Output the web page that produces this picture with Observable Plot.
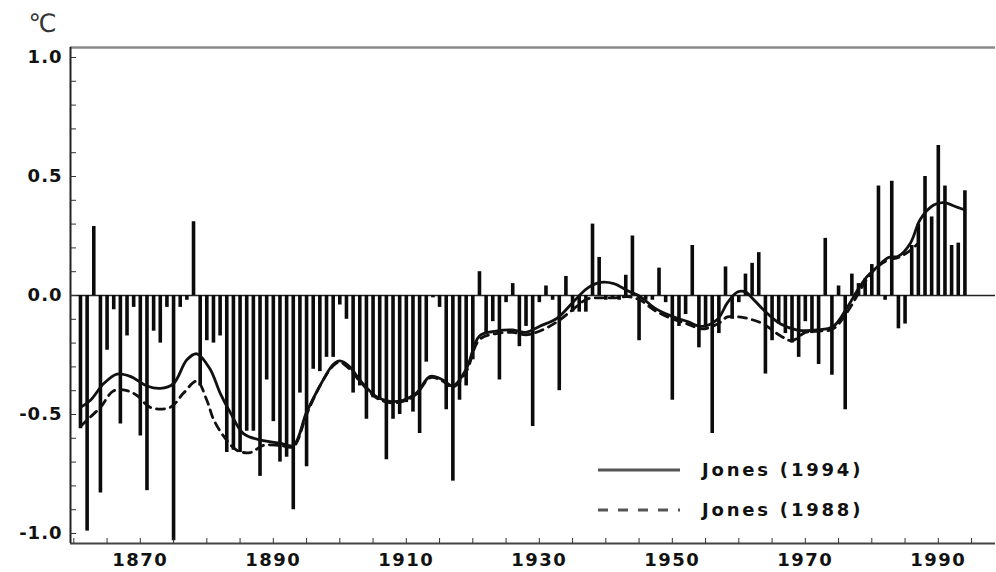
<!DOCTYPE html>
<html>
<head>
<meta charset="utf-8">
<script src="https://cdn.jsdelivr.net/npm/d3@7"></script>
<script src="https://cdn.jsdelivr.net/npm/@observablehq/plot@0.6"></script>
<style>
  html, body { margin: 0; padding: 0; background: #fff; }
  #chart svg { display: block; }
</style>
</head>
<body>
<div id="chart"></div>
<script>
// ---------- DATA ----------
const firstYear = 1861;
// annual global temperature anomalies (°C), 1861–1994
const anomalies = [
  -0.56, -0.99, 0.29, -0.83, -0.23, -0.06, -0.54, -0.17, -0.05,          // 1861-1869
  -0.59, -0.82, -0.15, -0.20, -0.05, -1.03, -0.05, -0.02, 0.31, -0.38,   // 1870-1879
  -0.19, -0.20, -0.17, -0.66, -0.65, -0.66, -0.57, -0.57, -0.76, -0.355, // 1880-1889
  -0.53, -0.70, -0.68, -0.90, -0.41, -0.72, -0.31, -0.32, -0.26, -0.26,  // 1890-1899
  -0.04, -0.10, -0.41, -0.38, -0.52, -0.43, -0.44, -0.69, -0.52, -0.50,  // 1900-1909
  -0.45, -0.49, -0.58, -0.28, -0.01, -0.05, -0.48, -0.78, -0.44, -0.38,  // 1910-1919
  -0.27, 0.10, -0.16, -0.11, -0.355, -0.03, 0.05, -0.215, -0.13, -0.55,  // 1920-1929
  -0.03, 0.04, -0.02, -0.40, 0.08, -0.07, -0.07, -0.07, 0.30, 0.16,      // 1930-1939
  -0.02, -0.01, -0.02, 0.085, 0.25, -0.19, -0.02, -0.02, 0.115, -0.03,   // 1940-1949
  -0.44, -0.13, -0.08, 0.21, -0.22, -0.13, -0.58, -0.16, 0.12, -0.10,    // 1950-1959
  -0.03, 0.09, 0.135, 0.18, -0.33, -0.19, -0.12, -0.16, -0.20, -0.26,    // 1960-1969
  -0.11, -0.16, -0.29, 0.24, -0.335, 0.04, -0.48, 0.09, 0.05, 0.07,      // 1970-1979
  0.13, 0.46, -0.02, 0.48, -0.14, -0.12, 0.21, 0.30, 0.50, 0.33,         // 1980-1989
  0.63, 0.46, 0.21, 0.22, 0.44                                           // 1990-1994
];
const years = anomalies.map((_, i) => firstYear + i);

// smoothed curve, Jones (1994)
const jones1994Years = [1861, 1862.5, 1864.5, 1866.5, 1868.5, 1871, 1873, 1875, 1877, 1878.5,
  1880.5, 1882, 1883.5, 1885.5, 1888.5, 1891, 1893, 1895, 1897, 1899, 1900, 1901.5, 1903,
  1905.5, 1907.5, 1909.5, 1911.5, 1913.6, 1915.5, 1917, 1919, 1921, 1923.5, 1926, 1928, 1930,
  1932.7, 1935, 1937.2, 1939.2, 1941.2, 1943.3, 1945.2, 1947.2, 1949.3, 1952.3, 1954.5, 1956.8,
  1958.3, 1959.8, 1961, 1962, 1963.7, 1966.3, 1968.8, 1971.8, 1974.2, 1976.3, 1977.8, 1979.3,
  1980.8, 1982.5, 1984, 1985.8, 1987.3, 1989.3, 1990.8, 1992.9, 1994];
const jones1994Values = [-0.47, -0.44, -0.37, -0.33, -0.34, -0.38, -0.39, -0.37, -0.27, -0.245,
  -0.31, -0.41, -0.49, -0.58, -0.61, -0.62, -0.63, -0.49, -0.38, -0.29, -0.275, -0.30, -0.355,
  -0.425, -0.445, -0.44, -0.41, -0.34, -0.355, -0.38, -0.31, -0.17, -0.15, -0.145, -0.155, -0.13,
  -0.095, -0.03, 0.03, 0.055, 0.05, 0.02, -0.005, -0.05, -0.08, -0.11, -0.13, -0.10,
  -0.03, 0.015, 0.015, -0.01, -0.06, -0.12, -0.145, -0.145, -0.13, -0.05, 0.02, 0.08,
  0.12, 0.16, 0.165, 0.22, 0.32, 0.38, 0.39, 0.37, 0.36];

// smoothed curve, Jones (1988)
const jones1988Years = [1861, 1862.5, 1864, 1866, 1868, 1869.5, 1871.5, 1874.5, 1876.5, 1878.5,
  1880, 1881, 1882.5, 1884.5, 1886.5, 1888.5, 1891, 1893, 1895, 1897, 1899, 1900, 1901.5, 1903,
  1905.5, 1907.5, 1909.5, 1911.5, 1913.6, 1915.5, 1917, 1919, 1921, 1923.5, 1926, 1928, 1930,
  1932.7, 1935, 1937.2, 1939.2, 1941.2, 1943.3, 1945.2, 1947.2, 1949.3, 1952.3, 1954.5, 1956.8,
  1958.3, 1960, 1961.8, 1963.7, 1966.3, 1968, 1970, 1972, 1974.2, 1976.3, 1977.8, 1979.3,
  1980.8, 1982.5, 1984, 1985.8, 1987];
const jones1988Values = [-0.55, -0.51, -0.47, -0.40, -0.40, -0.42, -0.47, -0.47, -0.41, -0.36,
  -0.44, -0.52, -0.59, -0.65, -0.66, -0.63, -0.63, -0.635, -0.50, -0.38, -0.295, -0.28, -0.31, -0.36,
  -0.43, -0.45, -0.445, -0.415, -0.345, -0.36, -0.385, -0.32, -0.185, -0.16, -0.155, -0.165, -0.15,
  -0.11, -0.06, -0.015, -0.01, -0.01, -0.005, -0.02, -0.06, -0.09, -0.12, -0.14, -0.12,
  -0.09, -0.09, -0.10, -0.12, -0.17, -0.19, -0.155, -0.15, -0.14, -0.07, 0.0, 0.07,
  0.12, 0.15, 0.16, 0.19, 0.22];

const yTickLabels = [-1.0, -0.5, 0.0, 0.5, 1.0];
const yMinorTicks = [-1.0, -0.9, -0.8, -0.7, -0.6, -0.5, -0.4, -0.3, -0.2, -0.1, 0.0,
                     0.1, 0.2, 0.3, 0.4, 0.5, 0.6, 0.7, 0.8, 0.9, 1.0];
const xTickLabels = [1870, 1890, 1910, 1930, 1950, 1970, 1990];
const xMinorTicks = [1860, 1865, 1870, 1875, 1880, 1885, 1890, 1895, 1900, 1905, 1910, 1915,
                     1920, 1925, 1930, 1935, 1940, 1945, 1950, 1955, 1960, 1965, 1970, 1975,
                     1980, 1985, 1990, 1995];
const seriesNames = ["Jones (1994)", "Jones (1988)"];
const unitLabel = "℃";

// ---------- derived tables ----------
const bars = years.map((year, i) => ({year, value: anomalies[i]}));
const curve94 = jones1994Years.map((year, i) => ({year, value: jones1994Values[i]}));
const curve88 = jones1988Years.map((year, i) => ({year, value: jones1988Values[i]}));

const X_DOMAIN = [1859.5, 1998.6];
const Y_DOMAIN = [-1.042, 1.042];
const FONT = "DejaVu Sans";
const INK = "#111";

const chart = Plot.plot({
  width: 996,
  height: 572,
  marginLeft: 70,
  marginRight: 1,
  marginTop: 47,
  marginBottom: 29,
  x: {domain: X_DOMAIN, label: null},
  y: {domain: Y_DOMAIN, label: null},
  style: {fontFamily: FONT, background: "#fff", color: INK},
  marks: [
    // frame lines
    Plot.ruleY([Y_DOMAIN[1]], {stroke: "#8a8a8a", strokeWidth: 2.5}),
    Plot.ruleY([Y_DOMAIN[0]], {stroke: "#444", strokeWidth: 2}),
    Plot.ruleX([X_DOMAIN[0]], {stroke: "#222", strokeWidth: 2}),
    // zero line
    Plot.ruleY([0], {stroke: "#222", strokeWidth: 1.6}),
    // annual bars
    Plot.ruleX(bars, {x: "year", y1: 0, y2: "value", stroke: "#0b0b0b", strokeWidth: 3.6}),
    // smoothed curves
    Plot.line(curve88, {x: "year", y: "value", curve: "catmull-rom", stroke: INK,
                        strokeWidth: 2.8, strokeDasharray: "8,6"}),
    Plot.line(curve94, {x: "year", y: "value", curve: "catmull-rom", stroke: INK,
                        strokeWidth: 2.8}),
    // axes
    Plot.axisY({ticks: yMinorTicks, tickSize: -6, tickFormat: () => "", stroke: "#333", label: null}),
    Plot.axisY({ticks: yTickLabels, tickSize: 0, tickPadding: 8, label: null,
                tickFormat: d => d.toFixed(1), fontSize: 18, fontWeight: "bold", fill: INK}),
    Plot.axisX({ticks: xMinorTicks, tickSize: -5, tickFormat: () => "", stroke: "#333", label: null}),
    Plot.axisX({ticks: xTickLabels, tickSize: 0, tickPadding: 10, label: null,
                tickFormat: d => String(d), fontSize: 18, fontWeight: "bold", fill: INK}),
    // unit label
    Plot.text([unitLabel], {frameAnchor: "top-left", dx: -28, dy: -24, fontSize: 25,
                            fill: "#333", textAnchor: "middle", lineAnchor: "middle"})
  ]
});

document.getElementById("chart").appendChild(chart);

// letter spacing for tick labels
const svg = d3.select(chart);
svg.selectAll('[aria-label="y-axis tick label"] text').style("letter-spacing", "1px");
svg.selectAll('[aria-label="x-axis tick label"] text').style("letter-spacing", "1.5px");

// legend (inside the plot, lower right)
const legend = svg.append("g").attr("class", "legend");
const legendRows = [
  {name: seriesNames[0], dash: null, y: 470},
  {name: seriesNames[1], dash: "10,10", y: 510}
];
legendRows.forEach(r => {
  legend.append("line")
    .attr("x1", 598).attr("x2", 680).attr("y1", r.y).attr("y2", r.y)
    .attr("stroke", "#555").attr("stroke-width", 3)
    .attr("stroke-dasharray", r.dash);
  legend.append("text")
    .attr("x", 702).attr("y", r.y).attr("dy", "0.36em")
    .attr("text-anchor", "start")
    .attr("font-family", FONT).attr("font-size", 18).attr("font-weight", "bold")
    .attr("fill", INK).style("letter-spacing", "2.8px")
    .text(r.name);
});
</script>
</body>
</html>
